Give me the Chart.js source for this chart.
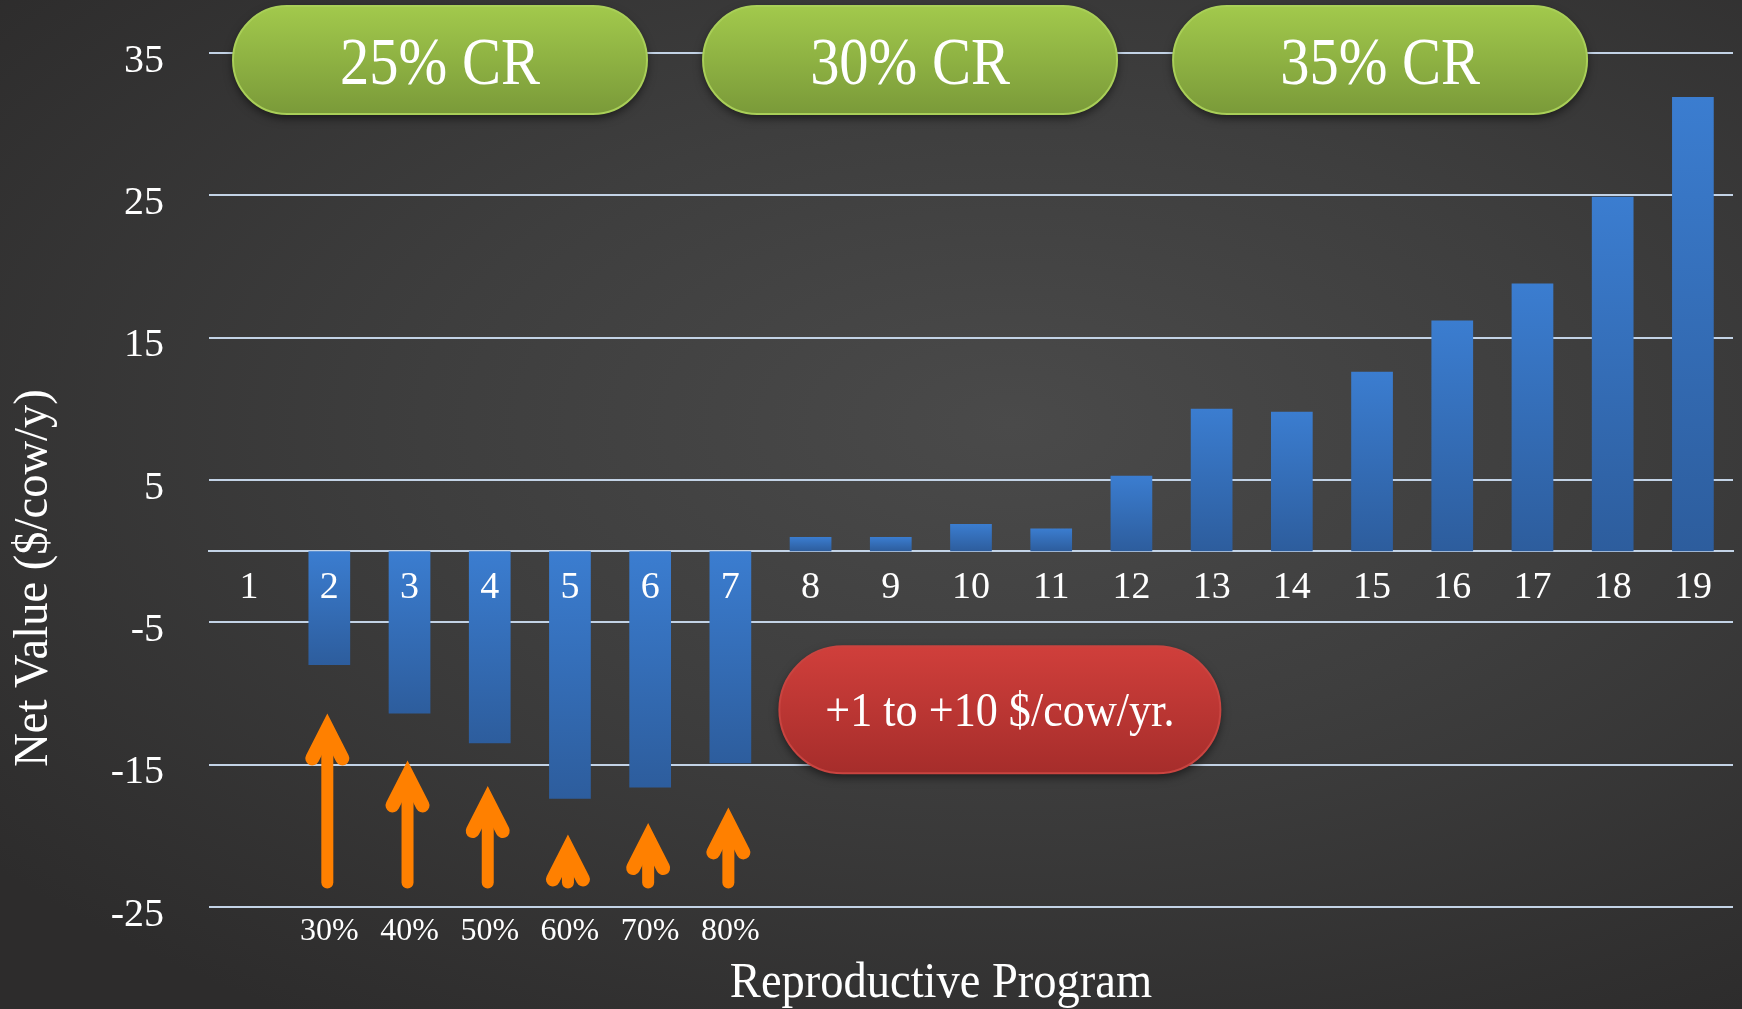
<!DOCTYPE html>
<html>
<head>
<meta charset="utf-8">
<title>Net Value by Reproductive Program</title>
<script src="https://cdn.jsdelivr.net/npm/chart.js@4/dist/chart.umd.min.js"></script>
<style>
  html, body { margin: 0; padding: 0; }
  body {
    width: 1742px;
    height: 1009px;
    overflow: hidden;
    background: radial-gradient(ellipse 75% 70% at 58% 42%, #4a4a4a 0%, #3e3e3e 45%, #2d2c2c 100%);
  }
  #wrap { position: relative; width: 1742px; height: 1009px; }
</style>
</head>
<body>
<div id="wrap"><canvas id="chart"></canvas></div>
<script>
// data
const programs = ['1', '2', '3', '4', '5', '6', '7', '8', '9', '10',
                  '11', '12', '13', '14', '15', '16', '17', '18', '19'];
const netValues = [0, -8.0, -11.4, -13.5, -17.4, -16.6, -14.9, 1.0, 1.0, 1.9,
                   1.6, 5.3, 10.0, 9.8, 12.6, 16.2, 18.8, 24.9, 31.9];
const yTickMin = -25;
const yTickMax = 35;
const yTickStep = 10;

// orange arrows under programs 2-7 (improvement in conception rate)
const arrowLabels = ['', '30%', '40%', '50%', '60%', '70%', '80%', '', '', '',
                     '', '', '', '', '', '', '', '', ''];
const arrowTips = [null, -11.4, -14.7, -16.5, -19.9, -19.1, -18.0, null, null, null,
                   null, null, null, null, null, null, null, null, null];
const arrowBase = -23.7;

const crGroups = ['25% CR', '30% CR', '35% CR'];
const gainNote = '+1 to +10 $/cow/yr.';

const FONT = '"Liberation Serif", "DejaVu Serif", serif';
const GRID = '#c3d3e6';

// bars: lighter blue at the upper edge, darker at the lower edge
function barFill(c) {
  const chart = c.chart;
  const y = chart.scales.y;
  if (!chart.chartArea || !y || c.type !== 'data') return '#3572c0';
  const v = c.raw;
  const top = y.getPixelForValue(Math.max(v, 0));
  const bot = y.getPixelForValue(Math.min(v, 0));
  if (bot - top < 1) return '#3a7bd0';
  const g = chart.ctx.createLinearGradient(0, top, 0, bot);
  g.addColorStop(0, '#3b7dd0');
  g.addColorStop(1, '#2d5d9d');
  return g;
}

function pill(ctx, cx, cy, w, h, c1, c2, edge) {
  ctx.save();
  ctx.shadowColor = 'rgba(0,0,0,0.55)';
  ctx.shadowBlur = 10;
  ctx.shadowOffsetY = 4;
  const g = ctx.createLinearGradient(0, cy - h / 2, 0, cy + h / 2);
  g.addColorStop(0, c1);
  g.addColorStop(1, c2);
  ctx.fillStyle = g;
  ctx.beginPath();
  ctx.roundRect(cx - w / 2, cy - h / 2, w, h, h / 2);
  ctx.fill();
  ctx.shadowColor = 'transparent';
  ctx.lineWidth = 2;
  ctx.strokeStyle = edge;
  ctx.stroke();
  ctx.restore();
}

// white text squeezed a little, the original face is narrower
function narrowText(ctx, txt, x, y, size, squeeze) {
  ctx.save();
  ctx.fillStyle = '#ffffff';
  ctx.font = size + 'px ' + FONT;
  ctx.textAlign = 'center';
  ctx.textBaseline = 'alphabetic';
  ctx.translate(x, y);
  ctx.scale(squeeze, 1);
  ctx.fillText(txt, 0, 0);
  ctx.restore();
}

const arrowPlugin = {
  id: 'arrows',
  afterDatasetsDraw(chart) {
    const {ctx, scales: {x, y}} = chart;
    ctx.save();
    ctx.strokeStyle = '#ff8000';
    ctx.lineCap = 'round';
    arrowTips.forEach((tip, i) => {
      if (tip === null) return;
      const px = x.getPixelForValue(i) - 2;
      const y0 = y.getPixelForValue(arrowBase);
      const y1 = y.getPixelForValue(tip);
      ctx.lineWidth = 12;
      ctx.lineJoin = 'round';
      ctx.beginPath();
      ctx.moveTo(px, y0 - 6);
      ctx.lineTo(px, y1 + 16);
      ctx.stroke();
      ctx.lineWidth = 14;
      ctx.lineJoin = 'miter';
      ctx.miterLimit = 10;
      ctx.beginPath();
      ctx.moveTo(px - 15, y1 + 45);
      ctx.lineTo(px, y1 + 15.5);
      ctx.lineTo(px + 15, y1 + 45);
      ctx.stroke();
    });
    ctx.restore();
  }
};

const notesPlugin = {
  id: 'notes',
  afterDraw(chart) {
    const {ctx, scales: {x, y}} = chart;
    // group pills along the top
    const groupAt = [2.38, 8.24, 14.1];
    crGroups.forEach((txt, i) => {
      const cx = x.getPixelForValue(groupAt[i]);
      const cy = y.getPixelForValue(34.5);
      pill(ctx, cx, cy, 414, 108, '#a2c94c', '#7a9a39', '#a9cf58');
      narrowText(ctx, txt, cx, cy + 24, 68, 0.86);
    });

    // red note
    const nx = x.getPixelForValue(9.36);
    const ny = y.getPixelForValue(-11.15);
    pill(ctx, nx, ny, 441, 127, '#d03f3b', '#a62d2b', '#c94440');
    narrowText(ctx, gainNote, nx, ny + 16, 48, 0.92);

    // axis titles
    narrowText(ctx, 'Reproductive Program', 941, 997, 50, 0.93);
    ctx.save();
    ctx.translate(47, 578);
    ctx.rotate(-Math.PI / 2);
    narrowText(ctx, 'Net Value ($/cow/y)', 0, 0, 48, 0.97);
    ctx.restore();
  }
};

new Chart(document.getElementById('chart'), {
  type: 'bar',
  data: {
    labels: programs,
    datasets: [{
      label: 'Net Value',
      data: netValues,
      backgroundColor: barFill,
      borderWidth: 0,
      categoryPercentage: 1,
      barPercentage: 0.52
    }]
  },
  options: {
    responsive: true,
    maintainAspectRatio: false,
    animation: false,
    layout: { padding: { top: 53, right: 9, bottom: 0, left: 0 } },
    plugins: {
      legend: { display: false },
      tooltip: { enabled: false }
    },
    scales: {
      x: {
        type: 'category',
        position: 'bottom',
        offset: true,
        grid: { display: false, drawTicks: false },
        border: { display: false },
        ticks: {
          autoSkip: false,
          maxRotation: 0,
          color: '#ffffff',
          padding: 5,
          font: { family: FONT, size: 32 },
          callback: (v, i) => arrowLabels[i]
        },
        afterFit: s => { s.height = 102; }
      },
      x2: {
        type: 'category',
        axis: 'x',
        position: { y: 0 },
        offset: true,
        grid: { display: false, drawTicks: false },
        border: { display: true, color: GRID, width: 2 },
        ticks: {
          z: 1,
          autoSkip: false,
          maxRotation: 0,
          color: '#ffffff',
          padding: 14,
          font: { family: FONT, size: 38 }
        },
        afterFit: s => { s.height = 0; }
      },
      y: {
        type: 'linear',
        min: yTickMin,
        max: yTickMax,
        grid: {
          color: GRID,
          lineWidth: 2,
          drawTicks: true,
          tickLength: 40,
          tickColor: 'rgba(0,0,0,0)'
        },
        border: { display: false },
        ticks: {
          stepSize: yTickStep,
          color: '#ffffff',
          padding: 5,
          labelOffset: 8,
          font: { family: FONT, size: 40 }
        },
        afterFit: s => { s.width = 209; }
      }
    }
  },
  plugins: [arrowPlugin, notesPlugin]
});
</script>
</body>
</html>
